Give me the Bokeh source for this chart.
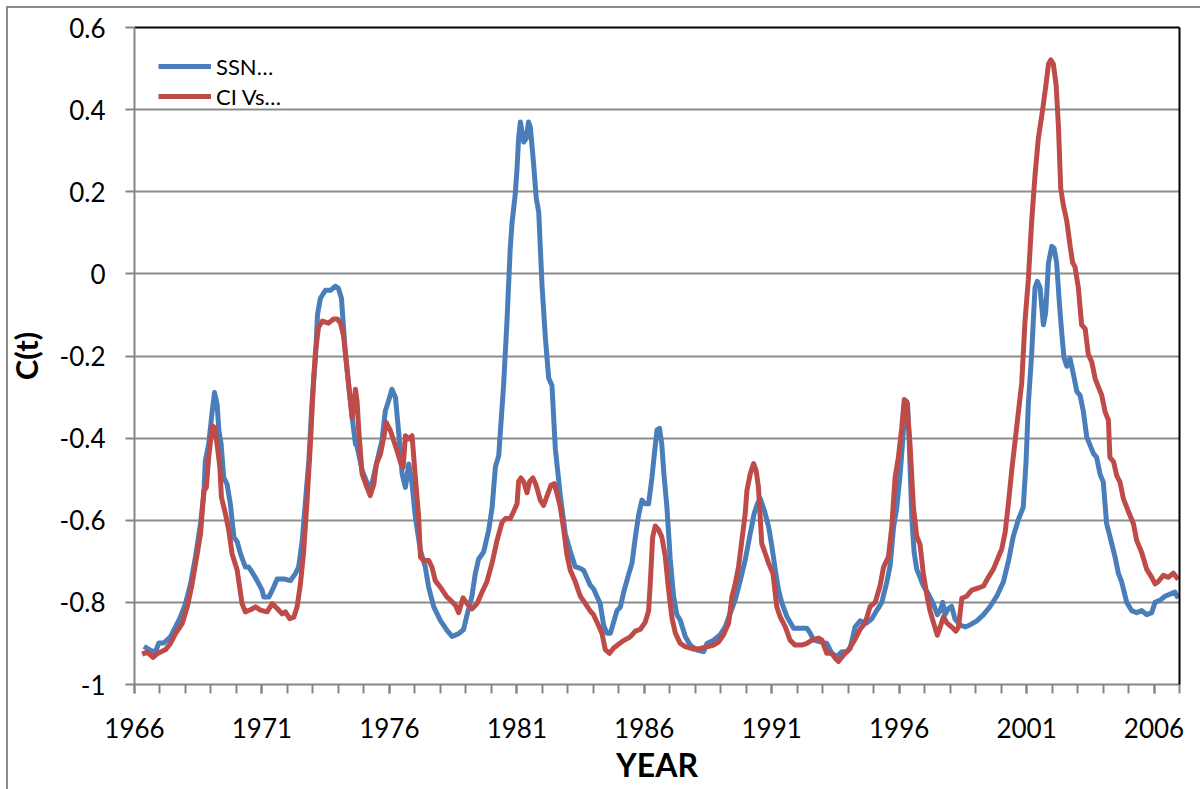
from bokeh.plotting import figure
from bokeh.models import (Range1d, FixedTicker, LinearAxis, Legend, LegendItem,
                          ColumnDataSource, InlineStyleSheet)
from bokeh.embed import file_html
from bokeh.resources import INLINE

# ---------------- data ----------------
ssn_year = [1966.37, 1966.63, 1966.82, 1966.95, 1967.15, 1967.41, 1967.61, 1967.80, 1968.00, 1968.20,
            1968.39, 1968.59, 1968.72, 1968.78, 1968.91, 1969.05, 1969.14, 1969.24, 1969.31, 1969.40,
            1969.50, 1969.63, 1969.76, 1969.90, 1970.03, 1970.16, 1970.35, 1970.48, 1970.61, 1970.81,
            1971.01, 1971.07, 1971.27, 1971.40, 1971.60, 1971.86, 1972.12, 1972.31, 1972.44, 1972.58,
            1972.71, 1972.84, 1972.97, 1973.10, 1973.18, 1973.29, 1973.49, 1973.69, 1973.88, 1974.00,
            1974.12, 1974.20, 1974.27, 1974.40, 1974.54, 1974.67, 1974.73, 1974.93, 1975.12, 1975.25,
            1975.52, 1975.71, 1975.84, 1975.97, 1976.10, 1976.24, 1976.37, 1976.50, 1976.63, 1976.76,
            1976.89, 1977.02, 1977.22, 1977.41, 1977.54, 1977.74, 1978.00, 1978.26, 1978.46, 1978.72,
            1978.91, 1979.05, 1979.24, 1979.37, 1979.50, 1979.70, 1979.90, 1980.03, 1980.16, 1980.29,
            1980.35, 1980.48, 1980.61, 1980.74, 1980.81, 1980.94, 1981.01, 1981.07, 1981.14, 1981.20,
            1981.27, 1981.37, 1981.46, 1981.53, 1981.66, 1981.76, 1981.86, 1981.99, 1982.12, 1982.25,
            1982.38, 1982.51, 1982.71, 1982.90, 1983.10, 1983.29, 1983.49, 1983.62, 1983.75, 1983.88,
            1984.01, 1984.14, 1984.27, 1984.41, 1984.54, 1984.67, 1984.80, 1984.93, 1985.06, 1985.19,
            1985.39, 1985.52, 1985.65, 1985.78, 1985.91, 1986.04, 1986.17, 1986.30, 1986.39, 1986.50,
            1986.60, 1986.69, 1986.76, 1986.89, 1987.02, 1987.15, 1987.28, 1987.41, 1987.61, 1987.80,
            1988.07, 1988.33, 1988.46, 1988.72, 1988.98, 1989.18, 1989.37, 1989.57, 1989.77, 1989.96,
            1990.16, 1990.31, 1990.44, 1990.55, 1990.71, 1990.88, 1991.01, 1991.14, 1991.27, 1991.40,
            1991.60, 1991.86, 1992.12, 1992.38, 1992.51, 1992.64, 1992.90, 1993.16, 1993.36, 1993.56,
            1993.75, 1993.95, 1994.08, 1994.27, 1994.47, 1994.73, 1994.93, 1995.12, 1995.32, 1995.52,
            1995.65, 1995.78, 1995.91, 1996.04, 1996.14, 1996.23, 1996.33, 1996.40, 1996.50, 1996.59,
            1996.69, 1996.82, 1996.95, 1997.15, 1997.35, 1997.50, 1997.61, 1997.71, 1997.80, 1997.93,
            1998.06, 1998.19, 1998.39, 1998.59, 1998.78, 1999.05, 1999.31, 1999.57, 1999.83, 2000.09,
            2000.29, 2000.48, 2000.68, 2000.87, 2000.98, 2001.07, 2001.20, 2001.33, 2001.42, 2001.53,
            2001.66, 2001.75, 2001.86, 2001.99, 2002.08, 2002.18, 2002.29, 2002.38, 2002.47, 2002.58,
            2002.70, 2002.84, 2002.97, 2003.10, 2003.23, 2003.36, 2003.49, 2003.62, 2003.75, 2003.88,
            2004.01, 2004.14, 2004.27, 2004.47, 2004.60, 2004.73, 2004.93, 2005.12, 2005.32, 2005.52,
            2005.71, 2005.91, 2006.04, 2006.23, 2006.43, 2006.63, 2006.82, 2006.95]
ssn_val = [-0.907, -0.917, -0.921, -0.899, -0.899, -0.884, -0.860, -0.836, -0.803, -0.755,
           -0.690, -0.609, -0.536, -0.455, -0.415, -0.334, -0.289, -0.317, -0.382, -0.415,
           -0.496, -0.512, -0.560, -0.641, -0.653, -0.682, -0.714, -0.714, -0.726, -0.747,
           -0.771, -0.787, -0.787, -0.771, -0.743, -0.743, -0.747, -0.730, -0.714, -0.649,
           -0.552, -0.455, -0.309, -0.204, -0.100, -0.060, -0.040, -0.040, -0.030, -0.035,
           -0.060, -0.130, -0.190, -0.270, -0.350, -0.415, -0.419, -0.479, -0.508, -0.528,
           -0.455, -0.406, -0.334, -0.309, -0.281, -0.301, -0.390, -0.487, -0.520, -0.463,
           -0.512, -0.593, -0.674, -0.714, -0.763, -0.811, -0.844, -0.868, -0.883, -0.876,
           -0.866, -0.830, -0.785, -0.730, -0.695, -0.677, -0.623, -0.569, -0.470, -0.443,
           -0.389, -0.272, -0.120, 0.060, 0.123, 0.195, 0.258, 0.330, 0.370, 0.348,
           0.321, 0.330, 0.370, 0.357, 0.267, 0.186, 0.150, -0.030, -0.155, -0.254,
           -0.272, -0.425, -0.542, -0.632, -0.677, -0.713, -0.717, -0.722, -0.740, -0.758,
           -0.767, -0.785, -0.803, -0.857, -0.875, -0.875, -0.848, -0.820, -0.812, -0.776,
           -0.731, -0.704, -0.641, -0.587, -0.551, -0.560, -0.560, -0.497, -0.443, -0.380,
           -0.376, -0.416, -0.479, -0.569, -0.695, -0.785, -0.830, -0.843, -0.883, -0.904,
           -0.916, -0.920, -0.900, -0.892, -0.879, -0.859, -0.827, -0.794, -0.746, -0.697,
           -0.632, -0.584, -0.560, -0.547, -0.576, -0.616, -0.665, -0.721, -0.770, -0.802,
           -0.835, -0.863, -0.863, -0.863, -0.875, -0.891, -0.896, -0.900, -0.924, -0.932,
           -0.920, -0.920, -0.912, -0.860, -0.845, -0.850, -0.840, -0.820, -0.800, -0.750,
           -0.709, -0.618, -0.568, -0.487, -0.407, -0.316, -0.316, -0.417, -0.598, -0.679,
           -0.719, -0.739, -0.760, -0.780, -0.805, -0.830, -0.820, -0.800, -0.830, -0.815,
           -0.810, -0.840, -0.855, -0.860, -0.855, -0.845, -0.830, -0.810, -0.785, -0.750,
           -0.699, -0.639, -0.598, -0.568, -0.457, -0.316, -0.195, -0.034, -0.018, -0.034,
           -0.124, -0.094, 0.027, 0.067, 0.062, 0.027, -0.074, -0.144, -0.205, -0.225,
           -0.205, -0.245, -0.286, -0.296, -0.336, -0.397, -0.417, -0.437, -0.447, -0.487,
           -0.507, -0.608, -0.639, -0.689, -0.729, -0.750, -0.800, -0.820, -0.825, -0.820,
           -0.830, -0.825, -0.800, -0.795, -0.785, -0.780, -0.775, -0.790]

ci_year = [1966.30, 1966.50, 1966.73, 1966.89, 1967.22, 1967.41, 1967.61, 1967.87, 1968.07, 1968.26,
           1968.46, 1968.59, 1968.72, 1968.82, 1968.91, 1969.05, 1969.14, 1969.24, 1969.35, 1969.41,
           1969.57, 1969.70, 1969.83, 1970.03, 1970.22, 1970.35, 1970.55, 1970.75, 1970.94, 1971.20,
           1971.40, 1971.60, 1971.79, 1971.92, 1972.09, 1972.25, 1972.38, 1972.51, 1972.64, 1972.77,
           1972.90, 1973.03, 1973.10, 1973.22, 1973.37, 1973.61, 1973.80, 1973.96, 1974.08, 1974.20,
           1974.27, 1974.40, 1974.54, 1974.67, 1974.73, 1974.80, 1974.93, 1975.12, 1975.25, 1975.39,
           1975.49, 1975.65, 1975.78, 1975.88, 1976.04, 1976.17, 1976.30, 1976.46, 1976.54, 1976.63,
           1976.76, 1976.89, 1977.02, 1977.15, 1977.22, 1977.35, 1977.54, 1977.67, 1977.80, 1978.00,
           1978.26, 1978.39, 1978.59, 1978.72, 1978.89, 1979.05, 1979.24, 1979.44, 1979.63, 1979.83,
           1980.03, 1980.22, 1980.42, 1980.55, 1980.74, 1980.88, 1981.01, 1981.07, 1981.16, 1981.27,
           1981.40, 1981.50, 1981.63, 1981.76, 1981.92, 1982.05, 1982.18, 1982.34, 1982.47, 1982.57,
           1982.71, 1982.84, 1982.97, 1983.10, 1983.29, 1983.49, 1983.69, 1983.88, 1984.01, 1984.21,
           1984.34, 1984.47, 1984.64, 1984.80, 1984.99, 1985.19, 1985.45, 1985.65, 1985.84, 1986.04,
           1986.17, 1986.24, 1986.33, 1986.43, 1986.56, 1986.69, 1986.82, 1986.95, 1987.09, 1987.22,
           1987.41, 1987.61, 1987.94, 1988.20, 1988.46, 1988.72, 1988.92, 1989.11, 1989.31, 1989.44,
           1989.57, 1989.70, 1989.83, 1989.96, 1990.03, 1990.16, 1990.29, 1990.39, 1990.48, 1990.61,
           1990.75, 1990.88, 1991.05, 1991.20, 1991.33, 1991.53, 1991.72, 1991.92, 1992.18, 1992.38,
           1992.58, 1992.84, 1992.97, 1993.16, 1993.36, 1993.49, 1993.62, 1993.82, 1994.01, 1994.27,
           1994.47, 1994.67, 1994.86, 1995.06, 1995.25, 1995.39, 1995.58, 1995.71, 1995.84, 1995.97,
           1996.10, 1996.20, 1996.30, 1996.43, 1996.56, 1996.69, 1996.82, 1996.95, 1997.08, 1997.21,
           1997.35, 1997.50, 1997.61, 1997.74, 1997.87, 1998.06, 1998.23, 1998.33, 1998.46, 1998.65,
           1998.85, 1999.11, 1999.31, 1999.50, 1999.70, 1999.90, 2000.03, 2000.16, 2000.29, 2000.42,
           2000.55, 2000.68, 2000.81, 2000.94, 2001.07, 2001.20, 2001.33, 2001.46, 2001.63, 2001.76,
           2001.86, 2001.95, 2002.05, 2002.16, 2002.25, 2002.34, 2002.44, 2002.58, 2002.71, 2002.81,
           2002.90, 2003.03, 2003.16, 2003.30, 2003.42, 2003.56, 2003.69, 2003.82, 2003.95, 2004.08,
           2004.21, 2004.27, 2004.41, 2004.54, 2004.67, 2004.80, 2004.99, 2005.19, 2005.32, 2005.52,
           2005.71, 2005.91, 2006.04, 2006.17, 2006.37, 2006.56, 2006.76, 2006.95]
ci_val = [-0.926, -0.921, -0.934, -0.925, -0.915, -0.900, -0.876, -0.852, -0.811, -0.755,
          -0.682, -0.633, -0.528, -0.520, -0.447, -0.370, -0.374, -0.415, -0.471, -0.544,
          -0.585, -0.625, -0.682, -0.722, -0.803, -0.823, -0.818, -0.811, -0.819, -0.823,
          -0.803, -0.815, -0.828, -0.823, -0.840, -0.836, -0.811, -0.755, -0.674, -0.552,
          -0.415, -0.253, -0.190, -0.130, -0.115, -0.120, -0.110, -0.110, -0.120, -0.150,
          -0.190, -0.269, -0.350, -0.281, -0.309, -0.382, -0.487, -0.520, -0.540, -0.512,
          -0.463, -0.439, -0.398, -0.362, -0.382, -0.406, -0.431, -0.463, -0.471, -0.394,
          -0.402, -0.394, -0.496, -0.593, -0.690, -0.698, -0.698, -0.714, -0.747, -0.763,
          -0.787, -0.794, -0.807, -0.825, -0.789, -0.803, -0.816, -0.803, -0.776, -0.749,
          -0.704, -0.650, -0.605, -0.596, -0.596, -0.578, -0.560, -0.506, -0.497, -0.506,
          -0.533, -0.506, -0.497, -0.515, -0.551, -0.564, -0.542, -0.515, -0.511, -0.533,
          -0.569, -0.623, -0.686, -0.722, -0.749, -0.785, -0.803, -0.821, -0.830, -0.857,
          -0.875, -0.915, -0.924, -0.911, -0.902, -0.893, -0.884, -0.870, -0.866, -0.848,
          -0.821, -0.749, -0.641, -0.614, -0.623, -0.641, -0.686, -0.767, -0.839, -0.875,
          -0.900, -0.908, -0.914, -0.912, -0.908, -0.904, -0.896, -0.879, -0.851, -0.786,
          -0.754, -0.713, -0.649, -0.584, -0.527, -0.487, -0.462, -0.479, -0.519, -0.657,
          -0.681, -0.705, -0.730, -0.811, -0.835, -0.859, -0.892, -0.904, -0.904, -0.900,
          -0.892, -0.887, -0.892, -0.924, -0.924, -0.936, -0.944, -0.928, -0.916, -0.890,
          -0.865, -0.850, -0.810, -0.800, -0.760, -0.714, -0.689, -0.618, -0.497, -0.447,
          -0.376, -0.306, -0.311, -0.417, -0.568, -0.639, -0.659, -0.730, -0.780, -0.820,
          -0.850, -0.880, -0.860, -0.835, -0.850, -0.860, -0.870, -0.860, -0.790, -0.785,
          -0.770, -0.765, -0.760, -0.739, -0.719, -0.689, -0.669, -0.629, -0.558, -0.477,
          -0.407, -0.336, -0.265, -0.114, -0.013, 0.128, 0.239, 0.329, 0.400, 0.460,
          0.511, 0.521, 0.511, 0.460, 0.360, 0.208, 0.168, 0.128, 0.067, 0.027,
          0.017, -0.033, -0.124, -0.134, -0.195, -0.215, -0.255, -0.276, -0.296, -0.336,
          -0.356, -0.447, -0.457, -0.492, -0.508, -0.548, -0.578, -0.608, -0.649, -0.679,
          -0.719, -0.739, -0.755, -0.749, -0.734, -0.739, -0.729, -0.744]

series_names = ["SSN\u2026", "CI Vs\u2026"]
y_ticks = [-1.0, -0.8, -0.6, -0.4, -0.2, 0.0, 0.2, 0.4, 0.6]
y_tick_labels = ["-1", "-0.8", "-0.6", "-0.4", "-0.2", "0", "0.2", "0.4", "0.6"]
x_label_years = [1966, 1971, 1976, 1981, 1986, 1991, 1996, 2001, 2006]
x_tick_years = list(range(1966, 2008))
x_title = "YEAR"
y_title = "C(t)"

# ---------------- styling ----------------
BLUE = "#4A7EBB"
RED = "#BE4B48"
GRID = "#8C8C8C"
AXIS = "#868686"
FONT = "Lato"

border_css = InlineStyleSheet(css="""
:host { position: relative; }
:host::after {
  content: ""; position: absolute; left: 6px; top: 6px; right: -20px; bottom: -20px;
  border: 2px solid #8C8C8C; pointer-events: none; box-sizing: border-box;
}
""")

p = figure(width=1200, height=789, output_backend="svg", toolbar_location=None,
           x_range=Range1d(1966, 2007), y_range=Range1d(-1, 0.6),
           min_border_left=134, min_border_right=21, min_border_top=27, min_border_bottom=105,
           background_fill_color="white", border_fill_color="white",
           stylesheets=[border_css])
p.outline_line_color = None

# grid
p.xgrid.visible = False
p.ygrid.ticker = FixedTicker(ticks=y_ticks)
p.ygrid.grid_line_color = GRID
p.ygrid.grid_line_width = 2

# y axis
ya = p.yaxis[0]
ya.ticker = FixedTicker(ticks=y_ticks)
ya.major_label_overrides = {t: s for t, s in zip(y_ticks, y_tick_labels)}
ya.axis_line_color = AXIS
ya.axis_line_width = 2
ya.major_tick_line_color = AXIS
ya.major_tick_line_width = 2
ya.major_tick_in = 0
ya.major_tick_out = 9
ya.minor_tick_line_color = None
ya.major_label_text_font = FONT
ya.major_label_text_font_size = "26px"
ya.major_label_text_color = "black"
ya.major_label_standoff = 20
ya.axis_label = y_title
ya.axis_label_text_font = FONT
ya.axis_label_text_font_size = "31px"
ya.axis_label_text_font_style = "bold"
ya.axis_label_text_color = "black"
ya.axis_label_standoff = 12

# x axis
xa = p.xaxis[0]
xa.ticker = FixedTicker(ticks=x_label_years, minor_ticks=x_tick_years)
xa.axis_line_color = AXIS
xa.axis_line_width = 2
xa.major_tick_line_color = AXIS
xa.major_tick_line_width = 2
xa.major_tick_in = 0
xa.major_tick_out = 9
xa.minor_tick_line_color = AXIS
xa.minor_tick_line_width = 2
xa.minor_tick_in = 0
xa.minor_tick_out = 9
xa.major_label_text_font = FONT
xa.major_label_text_font_size = "26px"
xa.major_label_text_color = "black"
xa.major_label_standoff = 24
xa.axis_label = x_title
xa.axis_label_text_font = FONT
xa.axis_label_text_font_size = "32px"
xa.axis_label_text_font_style = "bold"
xa.axis_label_text_color = "black"
xa.axis_label_standoff = 4

# black top and right frame lines
for side in ("above", "right"):
    ax = LinearAxis(ticker=FixedTicker(ticks=[]), axis_line_color="black", axis_line_width=2,
                    major_tick_line_color=None, minor_tick_line_color=None,
                    major_label_text_font_size="0px")
    p.add_layout(ax, side)

# series
src_ssn = ColumnDataSource(dict(x=ssn_year, y=ssn_val))
src_ci = ColumnDataSource(dict(x=ci_year, y=ci_val))
r1 = p.line("x", "y", source=src_ssn, line_color=BLUE, line_width=5, line_join="round")
r2 = p.line("x", "y", source=src_ci, line_color=RED, line_width=5, line_join="round")

legend = Legend(items=[LegendItem(label=series_names[0], renderers=[r1]),
                       LegendItem(label=series_names[1], renderers=[r2])],
                location="top_left", margin=24, padding=0, spacing=0,
                glyph_width=53, glyph_height=30, label_height=30, label_standoff=5,
                label_text_font=FONT, label_text_font_size="22px", label_text_color="black",
                background_fill_alpha=0, border_line_color=None)
p.add_layout(legend, "center")

open("out.html", "w").write(file_html(p, INLINE))
